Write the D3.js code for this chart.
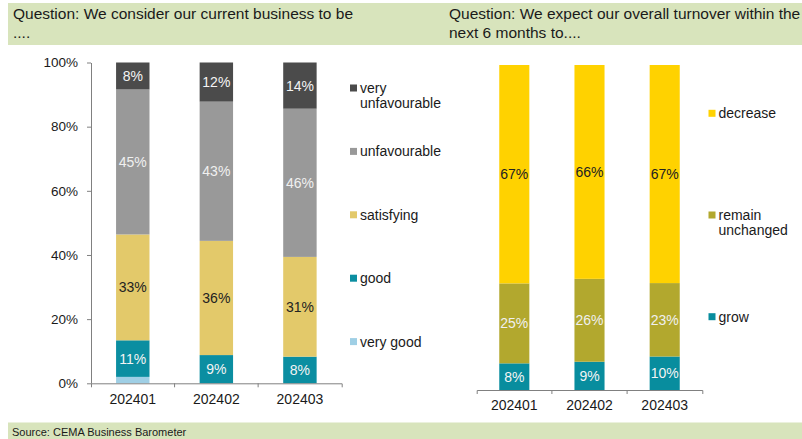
<!DOCTYPE html>
<html lang="en">
<head>
  <meta charset="UTF-8" />
  <title>CEMA Business Barometer</title>
  <script src="https://d3js.org/d3.v7.min.js"></script>
  <style>
    body {
      margin: 0;
      background: #fff;
      font-family: "Liberation Sans", Arial, sans-serif;
    }
    svg text {
      font-family: "Liberation Sans", Arial, sans-serif;
    }
  </style>
</head>
<body>
  <svg id="chart" width="802" height="439"></svg>

  <script>
    const periods = ["202401", "202402", "202403"];

    // left chart: current business situation (% of answers)
    const businessKeys = ["very good", "good", "satisfying", "unfavourable", "very unfavourable"];
    const veryGood = [2.0, 0, 0];
    const good = [11.4, 8.8, 8.3];
    const satisfying = [33.0, 35.6, 31.1];
    const unfavourable = [45.2, 43.4, 46.2];
    const veryUnfavourable = [8.4, 12.2, 14.4];

    // right chart: expected turnover in next 6 months
    const turnoverKeys = ["grow", "remain unchanged", "decrease"];
    const grow = [8.2, 8.7, 10.3];
    const remainUnchanged = [24.6, 25.5, 22.6];
    const decrease = [67.2, 65.8, 67.1];

    const yTicks = [0, 20, 40, 60, 80, 100];

    // legend entries that break onto two lines
    const legendLines = {
      "very unfavourable": ["very", "unfavourable"],
      "remain unchanged": ["remain", "unchanged"]
    };

    const businessColors = {
      "very good": "#9fcfe5",
      "good": "#0b8ea1",
      "satisfying": "#e3c96a",
      "unfavourable": "#999999",
      "very unfavourable": "#4b4b4b"
    };
    const businessLabelColors = {
      "very good": "#222",
      "good": "#f4f4f4",
      "satisfying": "#222",
      "unfavourable": "#f0f0f0",
      "very unfavourable": "#f4f4f4"
    };
    const turnoverColors = {
      "grow": "#088d9e",
      "remain unchanged": "#b2a82e",
      "decrease": "#ffd200"
    };
    const turnoverLabelColors = {
      "grow": "#f4f4f4",
      "remain unchanged": "#f0f0f0",
      "decrease": "#222"
    };

    const svg = d3.select("#chart");
    const green = "#d8e4bc";

    // header band and footer band
    svg.append("rect").attr("x", 8).attr("y", 3).attr("width", 794).attr("height", 42).attr("fill", green);
    svg.append("rect").attr("x", 8).attr("y", 422.5).attr("width", 794).attr("height", 16.5).attr("fill", green);

    const header = svg.append("g").attr("font-size", 15.5).attr("fill", "#1a1a1a");
    header.append("text").attr("x", 13).attr("y", 18.5).text("Question: We consider our current business to be");
    header.append("text").attr("x", 13).attr("y", 37.5).text("....");
    header.append("text").attr("x", 449).attr("y", 18.5).text("Question: We expect our overall turnover within the");
    header.append("text").attr("x", 449).attr("y", 37.5).text("next 6 months to....");

    svg.append("text")
      .attr("x", 12).attr("y", 436)
      .attr("font-size", 11).attr("fill", "#1a1a1a")
      .text("Source: CEMA Business Barometer");

    function buildRows(keys, seriesList) {
      return periods.map((p, i) => {
        const row = { period: p };
        keys.forEach((k, j) => { row[k] = seriesList[j][i]; });
        return row;
      });
    }

    function drawStack(opts) {
      const { keys, rows, colors, labelColors, x0, x1, yTop, yBottom, showYAxis, labelPad } = opts;
      const g = svg.append("g");

      const x = d3.scaleBand()
        .domain(periods)
        .range([x0, x1])
        .paddingInner(0.6)
        .paddingOuter(0.3);

      const y = d3.scaleLinear().domain([0, 100]).range([yBottom, yTop]);

      const series = d3.stack().keys(keys)(rows);

      const layer = g.selectAll("g.layer")
        .data(series)
        .join("g")
        .attr("class", "layer")
        .attr("fill", d => colors[d.key]);

      layer.selectAll("rect")
        .data(d => d)
        .join("rect")
        .attr("x", d => x(d.data.period))
        .attr("width", x.bandwidth())
        .attr("y", d => y(d[1]))
        .attr("height", d => y(d[0]) - y(d[1]));

      // value labels, small slices are left unlabelled
      layer.selectAll("text")
        .data(d => d.filter(v => v[1] - v[0] >= 4).map(v => ({ v, key: d.key })))
        .join("text")
        .attr("x", d => x(d.v.data.period) + x.bandwidth() / 2)
        .attr("y", d => (y(d.v[0]) + y(d.v[1])) / 2)
        .attr("dy", "0.36em")
        .attr("text-anchor", "middle")
        .attr("font-size", 14)
        .attr("fill", d => labelColors[d.key])
        .text(d => Math.round(d.v[1] - d.v[0]) + "%");

      if (showYAxis) {
        const yAxis = g.append("g")
          .attr("transform", `translate(${x0},0)`)
          .style("color", "#808080")
          .call(d3.axisLeft(y).tickValues(yTicks).tickFormat(d => d + "%").tickSize(4).tickSizeOuter(0).tickPadding(9));
        yAxis.selectAll("text").attr("fill", "#1a1a1a").attr("font-size", 13.5);
      }

      const xAxis = g.append("g")
        .attr("transform", `translate(0,${yBottom})`)
        .style("color", "#808080")
        .call(d3.axisBottom(x).tickSize(0).tickSizeOuter(4).tickPadding(labelPad));
      xAxis.selectAll("text").attr("fill", "#1a1a1a").attr("font-size", 14);

      // separator ticks between categories
      xAxis.selectAll("line.sep")
        .data(periods.slice(1))
        .join("line")
        .attr("class", "sep")
        .attr("x1", d => x(d) - x.step() * x.paddingInner() / 2)
        .attr("x2", d => x(d) - x.step() * x.paddingInner() / 2)
        .attr("y1", 0).attr("y2", 4)
        .attr("stroke", "#808080");
    }

    function drawLegend(items, colors, xMarker, yFirst, spacing) {
      const g = svg.append("g").attr("font-size", 14).attr("fill", "#1a1a1a");
      items.forEach((label, i) => {
        const cy = yFirst + i * spacing;
        g.append("rect")
          .attr("x", xMarker).attr("y", cy - 3.5)
          .attr("width", 7).attr("height", 7)
          .attr("fill", colors[label]);
        const lines = legendLines[label] || [label];
        const t = g.append("text").attr("y", cy);
        lines.forEach((w, k) => {
          t.append("tspan")
            .attr("x", xMarker + 10)
            .attr("dy", k === 0 ? "0.36em" : "1.08em")
            .text(w);
        });
      });
    }

    drawStack({
      keys: businessKeys,
      rows: buildRows(businessKeys, [veryGood, good, satisfying, unfavourable, veryUnfavourable]),
      colors: businessColors,
      labelColors: businessLabelColors,
      x0: 91, x1: 341.7, yTop: 62.5, yBottom: 383.3,
      showYAxis: true, labelPad: 10.7
    });

    drawStack({
      keys: turnoverKeys,
      rows: buildRows(turnoverKeys, [grow, remainUnchanged, decrease]),
      colors: turnoverColors,
      labelColors: turnoverLabelColors,
      x0: 476.7, x1: 702.3, yTop: 65, yBottom: 390,
      showYAxis: false, labelPad: 10
    });

    drawLegend(businessKeys.slice().reverse(), businessColors, 350, 88, 63.4);
    drawLegend(turnoverKeys.slice().reverse(), turnoverColors, 708.5, 113.3, 101.7);
  </script>
</body>
</html>
